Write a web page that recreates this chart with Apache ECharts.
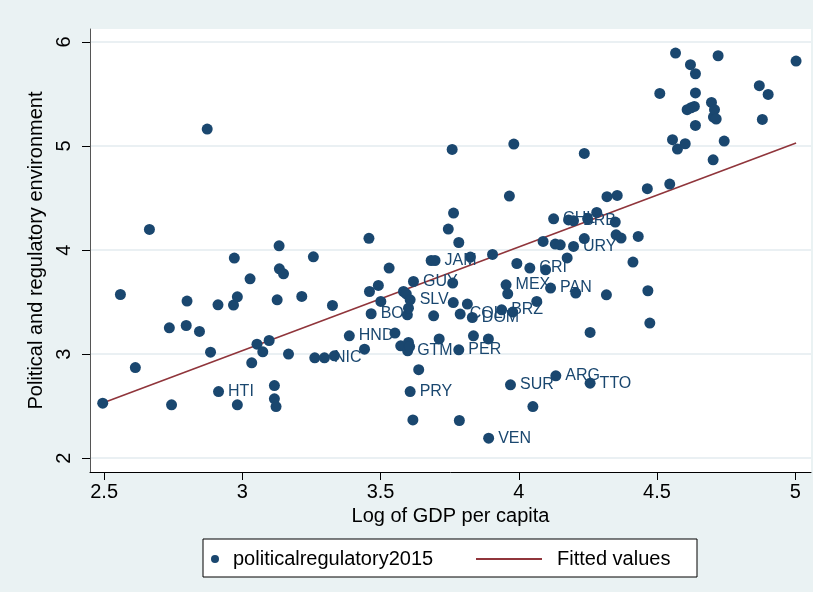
<!DOCTYPE html>
<html><head><meta charset="utf-8">
<script src="https://cdn.jsdelivr.net/npm/echarts@6/dist/echarts.min.js"></script>
<style>html,body{margin:0;padding:0;background:#eaf2f3}#c{width:813px;height:592px}</style>
</head><body><div id="c"></div>
<script>
const gdp = [2.495,2.559,2.613,2.664,2.736,2.744,2.797,2.800,2.845,2.873,2.885,2.912,2.914,2.968,2.971,2.982,2.982,3.028,3.034,3.053,3.074,3.097,3.116,3.116,3.122,3.126,3.133,3.134,3.149,3.167,3.215,3.257,3.262,3.297,3.326,3.333,3.387,3.442,3.458,3.460,3.466,3.492,3.501,3.531,3.552,3.573,3.583,3.593,3.597,3.598,3.601,3.601,3.605,3.607,3.607,3.617,3.619,3.638,3.683,3.692,3.697,3.712,3.745,3.759,3.761,3.763,3.764,3.783,3.783,3.785,3.788,3.814,3.825,3.832,3.836,3.890,3.891,3.905,3.938,3.954,3.960,3.966,3.970,3.978,3.982,3.993,4.040,4.051,4.065,4.088,4.097,4.115,4.126,4.132,4.134,4.150,4.175,4.180,4.198,4.198,4.206,4.237,4.237,4.249,4.258,4.258,4.282,4.317,4.319,4.349,4.352,4.356,4.370,4.413,4.432,4.465,4.467,4.474,4.510,4.546,4.556,4.567,4.574,4.602,4.609,4.621,4.623,4.635,4.639,4.639,4.639,4.697,4.703,4.704,4.708,4.714,4.721,4.743,4.870,4.881,4.902,5.003];
const polreg = [2.529,3.573,2.871,4.198,3.253,2.513,3.275,3.510,3.218,5.163,3.019,3.474,2.640,3.471,3.923,3.551,2.513,3.724,2.916,3.096,3.022,3.131,2.698,2.570,2.496,3.522,4.041,3.820,3.772,3.000,3.554,3.935,2.964,2.964,3.468,2.984,3.176,3.047,4.113,3.602,3.388,3.660,3.506,3.827,3.202,3.080,3.602,3.580,3.378,3.032,3.112,3.442,3.073,3.522,2.640,2.368,3.698,2.851,3.900,3.368,3.900,3.146,4.202,4.967,3.683,3.496,4.356,4.073,3.041,2.362,3.385,3.481,3.933,3.352,3.176,3.146,2.192,3.958,3.426,3.666,3.580,4.519,2.705,3.404,5.019,3.871,3.827,2.496,3.506,4.083,3.811,3.635,4.301,4.058,2.791,4.051,3.925,4.290,4.282,4.035,3.587,4.929,4.111,4.301,3.208,2.721,4.362,3.570,4.513,4.269,4.147,4.525,4.115,3.885,4.131,4.590,3.609,3.298,5.506,4.635,5.061,5.894,4.971,5.022,5.349,5.782,5.368,5.381,5.695,5.510,5.198,5.419,4.868,5.279,5.349,5.260,5.868,5.048,5.580,5.256,5.496,5.817];
const codes = ['','','','','','','','','','','','','HTI','','','','','','','','','','','','','','','','','','','','','NIC','','','HND','','','','BOL','','','','','','','','','GTM','','','','SLV','PRY','','GUY','','','','JAM','','','','','','','','PER','','COL','','','DOM','','','VEN','','BRZ','MEX','','','SUR','','','','CRI','','','','','PAN','CHL','','ARG','','','','BRB','URY','','','','','','TTO','','','','','','','','','','','','','','','','','','','','','','','','','','','','','','','','','','','',''];
const fitX = [2.495, 5.003];
const fitY = [2.53, 5.03];
const xTicks = [2.5, 3, 3.5, 4, 4.5, 5];
const yTicks = [2, 3, 4, 5, 6];

const FONT = "'Liberation Sans', Arial, sans-serif";
const chart = echarts.init(document.getElementById('c'));
const scatterData = gdp.map((x, i) => ({
  value: [x, polreg[i]], name: codes[i],
  label: { show: codes[i] !== '' }
}));
chart.setOption({
  backgroundColor: '#eaf2f3',
  animation: false,
  textStyle: { fontFamily: FONT },
  grid: { left: 90, right: 2, top: 29, bottom: 120, show: true, backgroundColor: '#ffffff', borderWidth: 0 },
  xAxis: {
    type: 'value', min: 2.449, max: 5.057,
    name: 'Log of GDP per capita', nameLocation: 'middle', nameGap: 33,
    nameTextStyle: { fontSize: 20, color: '#000', fontFamily: FONT },
    axisLine: { show: true, lineStyle: { color: '#000', width: 1 } },
    axisTick: { show: true, length: 8, customValues: xTicks, lineStyle: { color: '#000' } },
    axisLabel: { customValues: xTicks, fontSize: 20, color: '#000', margin: 10, fontFamily: FONT },
    splitLine: { show: false }
  },
  yAxis: {
    type: 'value', min: 1.867, max: 6.125,
    name: 'Political and regulatory environment', nameLocation: 'middle', nameGap: 37,
    nameTextStyle: { fontSize: 20, color: '#000', fontFamily: FONT },
    axisLine: { show: true, lineStyle: { color: '#555', width: 1 } },
    axisTick: { show: true, length: 8, customValues: yTicks, lineStyle: { color: '#000' } },
    axisLabel: { customValues: yTicks, fontSize: 20, color: '#000', rotate: 90, margin: 16, fontFamily: FONT },
    splitLine: { show: true, lineStyle: { color: '#e3ebef', width: 1.5 } }
  },
  legend: [
    { data: ['politicalregulatory2015'], left: 211, top: 549, padding: 0, itemWidth: 8, itemHeight: 8,
      textStyle: { fontSize: 20, color: '#000', fontFamily: FONT, padding: [0, 0, 0, 9] }, icon: 'circle' },
    { data: [{ name: 'Fitted values', icon: 'rect' }], left: 476, top: 549, padding: 0, itemWidth: 66, itemHeight: 2,
      textStyle: { fontSize: 20, color: '#000', fontFamily: FONT, padding: [0, 0, 0, 10] } }
  ],
  graphic: [{ type: 'rect', z: 0, shape: { x: 203, y: 539, width: 494, height: 38 },
    style: { fill: '#ffffff', stroke: '#000', lineWidth: 1 } }],
  series: [
    { name: 'Fitted values', type: 'line', data: fitX.map((x, i) => [x, fitY[i]]),
      symbol: 'none', lineStyle: { color: '#90353b', width: 1.6 }, itemStyle: { color: '#90353b' }, z: 2 },
    { name: 'politicalregulatory2015', type: 'scatter', data: scatterData, symbolSize: 11, clip: false,
      itemStyle: { color: '#1a476f', opacity: 1 }, z: 3,
      label: { position: 'right', distance: 4, formatter: '{b}', fontSize: 16, color: '#1a476f', fontFamily: FONT } }
  ]
});
</script></body></html>
